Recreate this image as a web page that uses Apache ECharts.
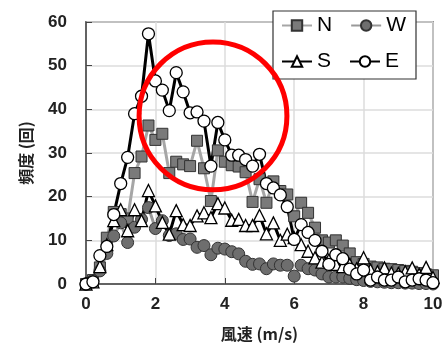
<!DOCTYPE html>
<html>
<head>
<meta charset="utf-8">
<script src="https://cdn.jsdelivr.net/npm/echarts@6/dist/echarts.min.js"></script>
<style>
  html, body { margin: 0; padding: 0; background: #fff; }
  #main { width: 447px; height: 347px; }
</style>
</head>
<body>
<div id="main"></div>
<script>
// 風速 (m/s)
var speeds = [0, 0.2, 0.4, 0.6, 0.8, 1.0, 1.2, 1.4, 1.6, 1.8, 2.0, 2.2, 2.4, 2.6, 2.8, 3.0, 3.2, 3.4, 3.6, 3.8,
    4.0, 4.2, 4.4, 4.6, 4.8, 5.0, 5.2, 5.4, 5.6, 5.8, 6.0, 6.2, 6.4, 6.6, 6.8, 7.0, 7.2, 7.4, 7.6, 7.8,
    8.0, 8.2, 8.4, 8.6, 8.8, 9.0, 9.2, 9.4, 9.6, 9.8, 10.0];
// 頻度 (回)
var freqN = [0, 0.9, 3.8, 10.6, 16.5, 16, 15, 25.4, 29.2, 36.3, 33, 34.4, 25.4, 28, 27.4, 27, 32.8, 26.5, 19, 30.6,
    28, 27.2, 26.9, 25.6, 18.8, 24, 18.6, 23.5, 21.3, 20.5, 15.5, 18.6, 16.3, 12.9, 10, 9.5, 10, 8.8, 7, 5,
    4.6, 4, 3.8, 3.5, 3.4, 3.2, 3, 2.8, 2.5, 2.2, 2];
var freqW = [0, 0.8, 3, 7, 11, 14, 9.5, 13, 14.8, 17.5, 12.7, 14.5, 11.1, 11.5, 10.2, 10.3, 8.4, 8.8, 6.7, 8.2,
    8, 7.4, 6.9, 5.2, 4.5, 4.6, 3.5, 4.6, 4.3, 4.3, 1.8, 4.3, 3.5, 3.2, 2.3, 1.6, 1.6, 1.6, 1.3, 1,
    0.8, 0.6, 0.5, 0.4, 0.3, 0.3, 0.2, 0.2, 0.1, 0.1, 0];
var freqS = [0, 0.5, 4, 9, 14.5, 17, 12.2, 17, 14.5, 21.4, 17.9, 14.1, 11.4, 16.8, 13.6, 13.4, 15.6, 16.3, 15.2, 18.4,
    17.4, 14.6, 14.8, 13.4, 13.4, 15.7, 11.5, 14, 10, 11.4, 10.6, 9, 7.5, 6, 5, 5.5, 4.5, 4, 4.5, 3.5,
    6, 3.2, 2.8, 3.7, 2.5, 2.4, 2.8, 3.7, 2.2, 3.8, 1.5];
var freqE = [0, 0.5, 6.5, 8.6, 15.9, 23, 29, 39, 43, 57.3, 46.5, 44.4, 39.7, 48.4, 44, 39.2, 39.4, 37.3, 27, 37,
    33, 29.5, 29.5, 28.5, 27, 29.7, 23, 22, 20.4, 17.7, 10.2, 13.6, 11.8, 10, 7.5, 4.5, 6.7, 5.8, 3.4, 2.3,
    3.2, 0.9, 1.6, 0.9, 0.9, 1.6, 0.5, 0.9, 1.2, 0.9, 0.3];

// 赤丸の位置 (データ座標)
var markCenter = [3.66, 38.5];
var markRadiusX = 2.13;

function pairs(ys) {
    return speeds.map(function (x, i) { return [x, ys[i]]; });
}

var myChart = echarts.init(document.getElementById('main'));
var labelFont = {
    fontFamily: 'Liberation Sans, Arial, sans-serif',
    fontSize: 17,
    fontWeight: 'bold',
    color: '#222'
};
var legendBase = {
    left: 281,
    padding: 0,
    itemGap: 18,
    itemWidth: 30,
    itemHeight: 13,
    textStyle: {
        fontFamily: 'Liberation Sans, Arial, sans-serif',
        fontSize: 21,
        color: '#000'
    }
};

var option = {
    animation: false,
    grid: {
        left: 86, right: 14, top: 22, bottom: 60,
        show: true,
        borderColor: '#444',
        borderWidth: 1.5
    },
    // 凡例 2行
    legend: [
        Object.assign({ top: 15, data: ['N', 'W'] }, legendBase),
        Object.assign({ top: 51, data: ['S', 'E'] }, legendBase)
    ],
    xAxis: {
        type: 'value',
        min: 0, max: 10, interval: 2,
        name: '風速 (m/s)',
        nameLocation: 'middle',
        nameGap: 42,
        nameTextStyle: {
            fontFamily: 'Noto Sans CJK JP, Liberation Sans, sans-serif',
            fontSize: 16, fontWeight: 'bold', color: '#222'
        },
        axisLine: { lineStyle: { color: '#444', width: 1.5 } },
        axisTick: { inside: true, length: 6, lineStyle: { color: '#444' } },
        axisLabel: Object.assign({ margin: 12 }, labelFont),
        splitLine: { show: true, lineStyle: { color: '#ddd', width: 1.5 } }
    },
    yAxis: {
        type: 'value',
        min: 0, max: 60, interval: 10,
        name: '頻度 (回)',
        nameLocation: 'middle',
        nameGap: 52,
        nameRotate: 90,
        nameTextStyle: {
            fontFamily: 'Noto Sans CJK JP, Liberation Sans, sans-serif',
            fontSize: 16, fontWeight: 'bold', color: '#222'
        },
        axisLine: { show: true, lineStyle: { color: '#444', width: 1.5 } },
        axisTick: { show: true, inside: true, length: 6, lineStyle: { color: '#444' } },
        axisLabel: Object.assign({ margin: 19 }, labelFont),
        splitLine: { show: true, lineStyle: { color: '#ddd', width: 1.5 } }
    },
    series: [
        {
            name: 'N', type: 'line', data: pairs(freqN),
            symbol: 'rect', symbolSize: 11,
            lineStyle: { color: '#a6a6a6', width: 3 },
            itemStyle: { color: '#7a7a7a', borderColor: '#333', borderWidth: 1 }
        },
        {
            name: 'W', type: 'line', data: pairs(freqW),
            symbol: 'circle', symbolSize: 12,
            lineStyle: { color: '#999', width: 3 },
            itemStyle: { color: '#6e6e6e', borderColor: '#333', borderWidth: 1 }
        },
        {
            name: 'S', type: 'line', data: pairs(freqS),
            symbol: 'triangle', symbolSize: 12,
            lineStyle: { color: '#000', width: 3 },
            itemStyle: { color: '#fff', borderColor: '#000', borderWidth: 1.3 }
        },
        {
            name: 'E', type: 'line', data: pairs(freqE),
            symbol: 'circle', symbolSize: 12,
            lineStyle: { color: '#000', width: 3 },
            itemStyle: { color: '#fff', borderColor: '#000', borderWidth: 1.3 }
        }
    ]
};
myChart.setOption(option);

// 赤丸をデータ座標から配置 + 凡例の枠
var c = myChart.convertToPixel({ gridIndex: 0 }, markCenter);
var edge = myChart.convertToPixel({ gridIndex: 0 }, [markCenter[0] + markRadiusX, markCenter[1]]);
myChart.setOption({
    graphic: [{
        type: 'circle',
        z: 100,
        shape: { cx: c[0], cy: c[1], r: edge[0] - c[0] },
        style: { fill: 'none', stroke: '#ff0000', lineWidth: 5 }
    }, {
        type: 'rect',
        z: 3,
        shape: { x: 273, y: 11, width: 143, height: 68 },
        style: { fill: '#fff', stroke: '#333', lineWidth: 1.2 }
    }]
});
</script>
</body>
</html>
